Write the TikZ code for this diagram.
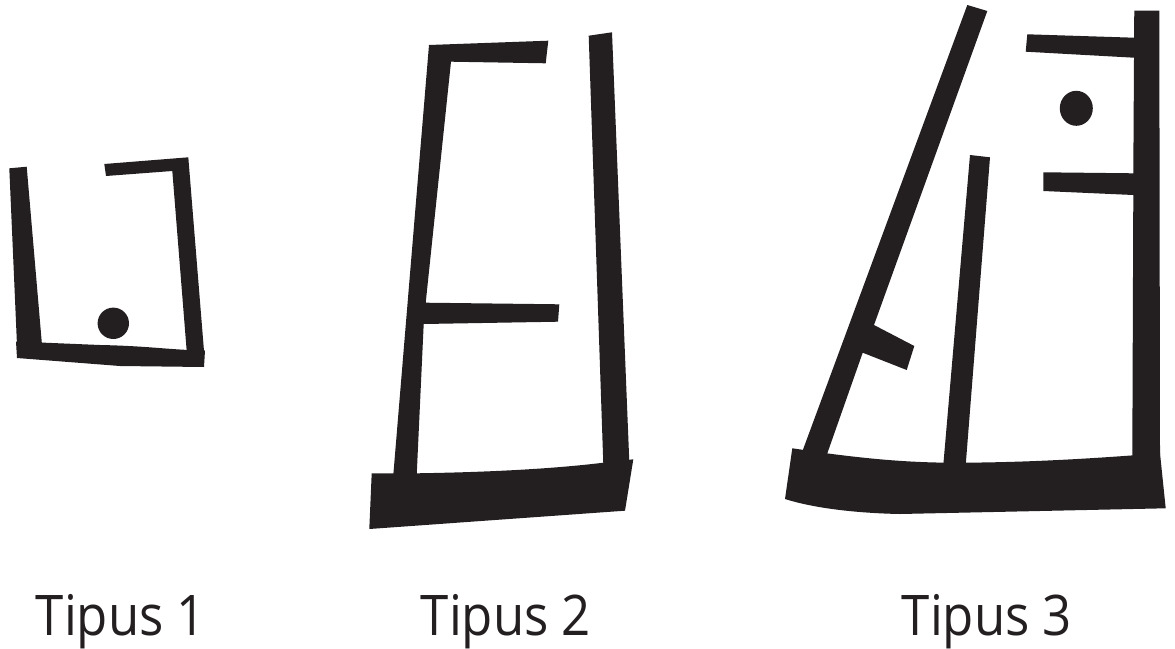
\documentclass[tikz,border=0pt]{standalone}
\usepackage{fontspec}
\setmainfont{Open Sans}
\newfontfamily\capfont[FakeStretch=0.91]{Open Sans}
\begin{document}
\begin{tikzpicture}[
  x=1pt, y=-1pt,
  ink/.style     = {fill=glyph, draw=none},
  caption/.style = {font=\capfont\fontsize{56}{60}\selectfont, text=glyph,
                    anchor=base, inner sep=0pt},
]
\definecolor{glyph}{HTML}{231F20}
\useasboundingbox (0,0) rectangle (1175,648);
% Tipus 1
\fill[ink] (9.3,168.3) -- (26.7,166.7) -- (42,345) -- (17,345) -- cycle;
\fill[ink] (16,341.5) -- (100,345) .. controls (150,346) and (170,350) .. (205,350.5)
  -- (204,367) -- (120,366) -- (17,358) -- cycle;
\fill[ink] (104.3,164) -- (188.3,157.3) -- (204,351) -- (186.7,351)
  -- (172.3,171) -- (106,176) -- cycle;
\fill[ink] (113.3,323.3) circle (15.7);
% Tipus 2
\fill[ink] (429,45) -- (548.3,40.7) -- (545.7,63.3) -- (451,61.7)
  -- (425.7,302.7) -- (559.3,304.3) -- (558,321.7) -- (423.7,324)
  -- (416.7,475) -- (393.3,475) -- cycle;
\fill[ink] (588.7,35.7) -- (612,32.3) -- (629.3,462) -- (603.3,464) -- cycle;
\fill[ink] (371.7,473.3) -- (416.7,473.3) .. controls (500,472) and (560,468) .. (603.3,462.7)
  -- (633.3,459.3) -- (625,510.7) -- (369.3,529) -- cycle;
% Tipus 3
\fill[ink] (967.3,5) -- (987.3,11) -- (874,325) -- (914.3,346) -- (906.7,370)
  -- (862.7,352.7) -- (826.7,455) -- (801,455) -- cycle;
\fill[ink] (970,155) -- (990,157.3) -- (965.7,465) -- (943.3,465) -- cycle;
\fill[ink] (1134.3,10.7) -- (1159.3,10.7) -- (1160,455) -- (1132.3,457)
  -- (1133.3,195) -- (1043.3,191) -- (1043.3,172.3) -- (1133.3,173.3)
  -- (1134,57.7) -- (1025.7,51.7) -- (1027.3,34.3) -- (1134,37.7) -- cycle;
\fill[ink] (1076.3,108.3) ellipse (16.5 and 17.5);
\fill[ink] (792.3,448.3) -- (826.7,453.3) .. controls (870,459) and (910,462.7) .. (954,462.7)
  .. controls (1030,462.7) and (1100,458) .. (1160,453.3)
  -- (1165.7,508.3) -- (900,514) .. controls (850,513) and (810,507) .. (785,499) -- cycle;
% captions
\node[caption] (t1) at (121,635) {Tipus 1};
\node[caption] (t2) at (506,635) {Tipus 2};
\node[caption] (t3) at (987,635) {Tipus 3};
\end{tikzpicture}
\end{document}
